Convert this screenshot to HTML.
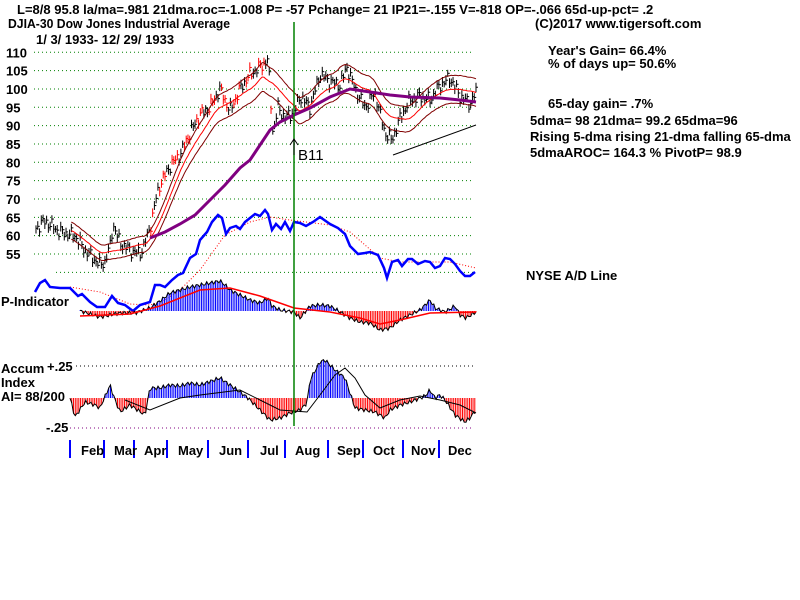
<!DOCTYPE html>
<html><head><meta charset="utf-8"><style>
body{margin:0;background:#fff;}
svg{display:block;}
text{font-family:"Liberation Sans",sans-serif;font-weight:bold;font-size:13px;fill:#000;}
</style></head><body>
<svg id="s" width="800" height="600" xmlns="http://www.w3.org/2000/svg">
<rect width="800" height="600" fill="#fff"/>
<g id="grid"></g>
<g id="bars"></g>
<g id="lines"></g>
<text x="17" y="14">L=8/8  95.8  la/ma=.981 21dma.roc=-1.008 P= -57 Pchange=  21 IP21=-.155 V=-818 OP=-.066 65d-up-pct= .2</text>
<text x="8" y="28" textLength="222" lengthAdjust="spacingAndGlyphs">DJIA-30  Dow Jones Industrial Average</text>
<text x="36" y="44">1/ 3/ 1933- 12/ 29/ 1933</text>
<text x="535" y="28">(C)2017 www.tigersoft.com</text>
<text x="548" y="55">Year's Gain= 66.4%</text>
<text x="548" y="68">% of days up= 50.6%</text>
<text x="548" y="108">65-day gain= .7%</text>
<text x="530" y="125">5dma= 98 21dma= 99.2 65dma=96</text>
<text x="530" y="141">Rising 5-dma rising 21-dma falling 65-dma</text>
<text x="530" y="157">5dmaAROC= 164.3 %  PivotP= 98.9</text>
<text x="526" y="280">NYSE A/D Line</text>
<text x="1" y="306">P-Indicator</text>
<text x="1" y="373">Accum</text>
<text x="1" y="387">Index</text>
<text x="1" y="401">AI= 88/200</text>
<text x="47" y="371">+.25</text>
<text x="46" y="432">-.25</text>
<text x="298" y="160" style="font-size:15px;font-weight:normal">B11</text>
<g id="months"></g>
</svg>
<script>
const NS="http://www.w3.org/2000/svg";
function el(p,t,a){const e=document.createElementNS(NS,t);for(const k in a)e.setAttribute(k,a[k]);document.getElementById(p).appendChild(e);return e;}
const Y=p=>52.3+(110-p)*3.667;
const lv=[110,105,100,95,90,85,80,75,70,65,60,55,50];
lv.forEach((v,i)=>{el('grid','line',{x1:v==50?56:34,x2:474,y1:Y(v),y2:Y(v),stroke:'#008000','stroke-dasharray':'1,3'});
 if(v>50)el('grid','text',{x:6,y:Y(v)+5}).textContent=v;});
el('grid','line',{x1:76,x2:474,y1:366,y2:366,stroke:'#000','stroke-dasharray':'1,3'});
el('grid','line',{x1:70,x2:474,y1:428,y2:428,stroke:'#800080','stroke-dasharray':'1,3'});
function interp(pts,x){for(let i=1;i<pts.length;i++){if(x<=pts[i][0]){const a=pts[i-1],b=pts[i];return a[1]+(b[1]-a[1])*(x-a[0])/(b[0]-a[0]);}}return pts[pts.length-1][1];}
const pk=[[36,62],[45,64],[60,61],[75,60],[85,56],[100,52],[105,53],[110,57],[113,63],[120,58],[130,56],[140,55],[145,58],[150,62],[156,70],[160,74],[170,79],[180,82],[190,88],[200,93],[210,95],[220,100],[230,94],[240,100],[250,104],[260,106],[268,108],[270,100],[273,88],[278,95],[285,92],[295,94],[300,98],[310,95],[320,104],[330,102],[340,101],[347,106],[355,100],[365,95],[375,99],[385,88],[392,86],[400,92],[410,97],[420,98],[430,97],[440,101],[450,103],[460,98],[470,96],[476,99]];
const N=250,xs=[],cl=[];
for(let i=0;i<N;i++){const x=36+i*440/(N-1);xs.push(x);cl.push(interp(pk,x)+1.2*Math.sin(i*2.3)+0.8*Math.sin(i*5.1));}
for(let i=0;i<N;i++){const h=cl[i]+0.8+0.6*Math.abs(Math.sin(i*1.7)),l=cl[i]-0.8-0.6*Math.abs(Math.cos(i*1.3));
 const red=xs[i]>150&&xs[i]<272&&Math.sin(i*0.9)>-0.2;const c=red?'#f00':'#000';
 el('bars','line',{x1:xs[i],x2:xs[i],y1:Y(h),y2:Y(l),stroke:c});
 el('bars','line',{x1:xs[i],x2:xs[i]+2,y1:Y(cl[i]),y2:Y(cl[i]),stroke:c});}
function ma(n,sh){const r=[];for(let i=n-1;i<N;i++){let s=0;for(let j=Math.max(0,i-n+1+sh);j<=Math.min(N-1,i+sh);j++)s+=cl[j];let c=Math.min(N-1,i+sh)-Math.max(0,i-n+1+sh)+1;r.push([xs[i],s/c]);}return r;}
function pl(pts,st,w,extra){const a={points:pts.map(p=>p[0].toFixed(1)+','+p[1].toFixed(1)).join(' '),fill:'none',stroke:st,'stroke-width':w};Object.assign(a,extra||{});return el('lines','polyline',a);}
const m21=ma(21,4);
pl(m21.map(p=>[p[0],Y(p[1])]),'#f00',1);
pl(m21.map(p=>[p[0],Y(p[1]*1.038)]),'#800000',1);
pl(m21.map(p=>[p[0],Y(p[1]*0.962)]),'#800000',1);
pl([[150,238],[165,232],[180,224],[195,215],[210,200],[225,185],[240,168],[250,160],[260,145],[270,130],[280,122],[294,115],[310,108],[330,97],[350,89],[370,92],[390,95],[410,97],[440,98],[460,100],[476,102]],'#800080',3);
const ad=[[35,292],[40,283],[45,280],[50,287],[60,288],[70,288],[78,296],[82,294],[90,302],[97,307],[105,307],[112,296],[118,303],[125,305],[133,311],[140,305],[150,302],[155,285],[160,285],[165,287],[172,280],[178,275],[183,273],[190,258],[196,254],[200,240],[207,232],[212,222],[218,215],[222,218],[226,234],[230,228],[236,226],[240,229],[245,222],[250,218],[255,214],[260,216],[265,210],[268,214],[272,230],[276,224],[281,229],[285,222],[290,231],[294,222],[300,223],[306,226],[313,222],[320,217],[330,224],[338,228],[345,234],[350,246],[358,254],[365,253],[370,252],[378,255],[384,268],[387,278],[392,262],[398,260],[402,266],[408,259],[412,259],[418,264],[425,261],[430,262],[435,268],[440,266],[445,258],[450,259],[455,264],[460,271],[465,276],[470,276],[475,272]];
pl([[70,287],[100,292],[130,304],[150,305],[165,300],[180,290],[200,270],[225,235],[250,222],[270,217],[290,220],[330,225],[350,232],[380,258],[400,262],[430,262],[450,262],[476,268]],'#f00',1,{'stroke-dasharray':'1,2'});
pl(ad,'#00f',2.5);
function hist(pts,base,x0,ma,ug,dg){for(let x=x0;x<=476;x+=1.76){const v=interp(pts,x)+2*Math.sin(x*1.3);el('lines','line',{x1:x,x2:x,y1:base,y2:v,stroke:v<base?ug:dg,'stroke-width':1});}
 const lp=[];for(let x=x0;x<=476;x+=1.76)lp.push([x,interp(pts,x)+2*Math.sin(x*1.3)]);pl(lp,'#000',1);pl(ma,ma.col,ma.w);}
const P=[[80,311],[100,317],[110,315],[120,313],[135,313],[150,308],[160,301],[170,293],[180,290],[190,287],[200,285],[210,283],[220,281],[225,285],[230,290],[240,295],[250,300],[260,303],[268,298],[272,306],[280,310],[294,312],[300,318],[310,306],[320,305],[330,306],[340,312],[350,318],[360,322],[370,323],[380,330],[390,328],[400,320],[410,315],[420,310],[425,305],[430,300],[435,308],[445,312],[455,306],[460,315],[466,318],[476,312]];
const Pm=[[80,316],[130,314],[160,306],[200,290],[230,288],[260,296],[294,308],[330,312],[360,318],[380,324],[400,320],[430,313],[476,312]];Pm.col='#f00';Pm.w=1.5;
hist(P,311,80,Pm,'#00f','#f00');
const A=[[70,398],[75,417],[85,402],[95,405],[100,408],[110,385],[115,400],[120,412],[130,405],[145,415],[150,388],[160,388],[170,385],[180,386],[190,383],[200,385],[220,378],[230,385],[240,392],[248,398],[255,405],[260,410],[270,420],[280,418],[290,413],[300,410],[307,403],[310,380],[320,362],[325,360],[330,365],[335,370],[345,378],[355,408],[365,410],[375,412],[385,418],[390,410],[400,405],[410,402],[425,396],[430,390],[435,398],[440,395],[445,400],[455,415],[465,422],[470,418],[476,410]];
const Am=[[125,400],[150,410],[180,398],[200,395],[240,390],[260,400],[280,410],[307,412],[320,395],[335,375],[345,368],[355,378],[365,395],[380,408],[400,400],[420,396],[440,400],[460,405],[476,413]];Am.col='#000';Am.w=1;
hist(A,398,70,Am,'#00f','#f00');
el('lines','line',{x1:294,x2:294,y1:22,y2:426,stroke:'#008000','stroke-width':1.5});
el('lines','path',{d:'M294,140 L294,155 M290,145 L294,139 L298,145',stroke:'#000',fill:'none'});
el('lines','line',{x1:393,y1:155,x2:476,y2:125,stroke:'#000'});
[70,104,134,167,208,248,285,328,363,403,439].forEach(x=>el('months','line',{x1:x,x2:x,y1:440,y2:458,stroke:'#00f','stroke-width':2}));
[['Feb',81],['Mar',114],['Apr',144],['May',178],['Jun',219],['Jul',260],['Aug',295],['Sep',337],['Oct',373],['Nov',411],['Dec',448]].forEach(m=>el('months','text',{x:m[1],y:455}).textContent=m[0]);
</script>
</body></html>
